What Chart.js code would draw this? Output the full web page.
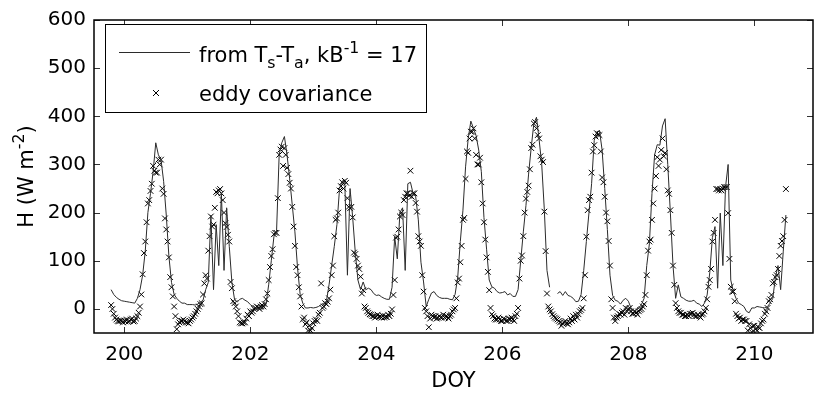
<!DOCTYPE html>
<html>
<head>
<meta charset="utf-8">
<title>H vs DOY</title>
<script src="https://cdn.jsdelivr.net/npm/chart.js"></script>
<style>
  html, body { margin: 0; padding: 0; background: #fff; }
  #wrap { width: 818px; height: 394px; }
</style>
</head>
<body>
<div id="wrap"><canvas id="hChart" width="818" height="394"></canvas></div>
<script>
// day of year and the first hour of data in that day
const days = [199, 200, 201, 202, 203, 204, 205, 206, 207, 208, 209, 210];
const firstHour = [19, 0, 0, 0, 0, 0, 0, 0, 0, 0, 0, 0];

// H from Ts-Ta (kB-1 = 17), one value per hour, W m-2
const ts199 = [40, 30, 24, 20, 17];
const ts200 = [16, 15, 14, 13, 12, 22, 40, 70, 120, 200, 240, 285, 345, 320, 310, 265, 195, 110, 55, 30, 22, 16, 12, 12];
const ts201 = [9, 9, 9, 8, 10, 14, 18, 40, 55, 195, 40, 175, 90, 240, 80, 210, 130, 55, 20, 14, 20, 22, 18, 15];
const ts202 = [9, 5, 2, 0, 0, 0, 10, 50, 100, 150, 160, 320, 345, 358, 320, 270, 215, 160, 85, 30, 12, 2, 2, 3];
const ts203 = [2, 3, 5, 9, 12, 16, 50, 90, 130, 175, 250, 266, 262, 70, 250, 190, 117, 60, 40, 56, 40, 43, 40, 32];
const ts204 = [28, 29, 25, 22, 20, 20, 45, 150, 104, 200, 210, 80, 260, 263, 240, 233, 185, 97, 56, 5, 20, 33, 36, 28];
const ts205 = [24, 22, 22, 22, 20, 19, 30, 65, 140, 205, 295, 354, 390, 375, 360, 330, 285, 190, 124, 60, 46, 43, 36, 33];
const ts206 = [34, 36, 29, 32, 26, 26, 40, 100, 160, 215, 280, 335, 385, 398, 352, 300, 205, 80, 45, null, null, 32, 36, 28];
const ts207 = [36, 28, 26, 22, 15, 16, 30, 80, 140, 200, 260, 350, 368, 370, 330, 250, 165, 70, 28, 18, 16, 10, 18, 22];
const ts208 = [16, 2, -5, -1, 2, 9, 22, 90, 135, 240, 320, 341, 340, 380, 395, 300, 199, 90, 22, 50, 25, 22, 18, 16];
const ts209 = [16, 18, 12, 10, 5, 12, 29, 75, 148, 171, 43, 199, 90, 253, 300, 60, 36, 22, 12, 9, 5, -5, -8, 2];
const ts210 = [2, 5, 4, 3, 2, 5, 12, 22, 65, 90, 40, 120, 195];

// eddy covariance H, one value per half hour, W m-2
const ec199 = [8, 0, -10, -18, -22, -25, -26, -24, -25, -28];
const ec200 = [-24, -26, -22, -27, -25, -22, -20, -26, -25, -20, -15, -8, 5, 30, 72, 116, 140, 180, 219, 226, 245, 260, 297, 287,
  283, 283, 310, 300, 310, 250, 239, 188, 165, 140, 107, 66, 45, 26, 5, -15, -42, -32, -28, -25, -25, -22, -25, -28];
const ec201 = [-28, -30, -25, -22, -18, -15, -10, -5, 0, 5, 10, 12, 30, 53, 70, 63, 121, 151, 192, 171, 175, 210, 243, 240,
  246, 249, 240, 226, 200, 178, 170, 154, 140, 56, 43, 16, 12, 5, -5, -15, -28, -30, -30, -28, -28, -20, -12, -15];
const ec202 = [-5, -8, -5, 0, 2, 5, 3, 0, 5, 8, 5, 10, 20, 32, 60, 87, 110, 124, 155, 158, 158, 230, 320, 331,
  337, 297, 334, 320, 293, 280, 262, 250, 212, 171, 131, 87, 70, 45, 26, 5, -22, -18, -32, -28, -45, -35, -45, -40];
const ec203 = [-30, -25, -22, -25, -12, -8, 53, 2, 5, 12, 10, 15, 22, 40, 70, 90, 151, 185, 188, 200, 246, 255, 263, 250,
  266, 262, 230, 212, 209, 212, 190, 117, 114, 104, 90, 83, 67, 32, 39, 5, 2, -5, -8, -11, -12, -15, -15, -18];
const ec204 = [-16, -12, -17, -15, -18, -14, -18, -16, -17, -12, -15, -10, -1, 29, 60, 148, 150, 165, 192, 200, 195, 226, 233, 240,
  240, 235, 287, 233, 240, 240, 220, 202, 151, 140, 131, 70, 36, 2, -5, -15, -38, -20, -12, -15, -18, -15, -20, -18];
const ec205 = [-15, -18, -18, -12, -18, -15, -16, -20, -15, -12, -5, -1, 2, 22, 55, 63, 97, 131, 185, 189, 270, 327, 324, 354,
  368, 368, 375, 354, 320, 300, 300, 314, 263, 219, 180, 144, 107, 77, 39, 2, -11, -15, -20, -22, -22, -18, -22, -25];
const ec206 = [-25, -20, -22, -25, -25, -20, -22, -18, -22, -25, -15, -10, 2, 63, 100, 111, 151, 200, 229, 243, 256, 290, 334, 341,
  385, 388, 375, 361, 354, 317, 310, 305, 202, 120, 32, 5, -1, -5, -11, -15, -18, -20, -22, -25, -28, -35, -30, -28];
const ec207 = [-25, -30, -32, -28, -20, -25, -15, -22, -12, -18, -11, -5, -2, 2, 22, 70, 150, 205, 226, 233, 283, 327, 340, 358,
  365, 362, 361, 327, 273, 263, 233, 200, 182, 141, 90, 20, 2, -18, -25, -18, -15, -10, -12, -8, -5, -12, 2, -5];
const ec208 = [0, 2, -5, -10, -10, -5, -8, -12, -5, -2, 0, 5, 10, 29, 70, 121, 140, 144, 185, 219, 250, 276, 315, 297,
  310, 330, 354, 317, 324, 290, 246, 239, 205, 158, 90, 50, 12, 2, -5, -8, -8, -12, -12, -15, -15, -12, -15, -10];
const ec209 = [-10, -8, -12, -15, -15, -12, -15, -18, -12, -10, -5, 2, 20, 46, 60, 83, 140, 158, 185, 249, 249, 246, 249, 246,
  250, 253, 253, 253, 199, 104, 46, 36, 36, 16, -10, -15, -20, -18, -25, -22, -22, -25, -25, -45, -32, -40, -48, -35];
const ec210 = [-35, -42, -45, -38, -40, -30, -25, -22, -10, -5, 2, 16, 20, 29, 53, 56, 66, 70, 83, 110, 131, 141, 151, 185, 249];

// axis ticks
const xTicks = [200, 202, 204, 206, 208, 210];
const yTicks = [0, 100, 200, 300, 400, 500, 600];

const FONT = 'DejaVu Sans';

// hours per array step: 1 for the model line, 0.5 for eddy covariance
function toPoints(lists, stepHours) {
  const pts = [];
  lists.forEach((vals, i) => {
    vals.forEach((v, k) => {
      pts.push({ x: days[i] + (firstHour[i] + k * stepHours) / 24, y: v });
    });
  });
  return pts;
}

const modelPoints = toPoints([ts199, ts200, ts201, ts202, ts203, ts204, ts205, ts206, ts207, ts208, ts209, ts210], 1);
const ecPoints = toPoints([ec199, ec200, ec201, ec202, ec203, ec204, ec205, ec206, ec207, ec208, ec209, ec210], 0.5);

// text with sub- and superscripts, parts = [[text, 'n'|'sub'|'sup'], ...]
function richWidth(ctx, parts, size) {
  let w = 0;
  parts.forEach(([t, k]) => {
    ctx.font = (k === 'n' ? size : size * 0.75) + 'px "' + FONT + '"';
    w += ctx.measureText(t).width;
  });
  return w;
}
function drawRich(ctx, parts, x, y, size) {
  parts.forEach(([t, k]) => {
    const s = k === 'n' ? size : size * 0.75;
    const dy = k === 'sub' ? size * 0.3 : (k === 'sup' ? -size * 0.42 : 0);
    ctx.font = s + 'px "' + FONT + '"';
    ctx.fillText(t, x, y + dy);
    x += ctx.measureText(t).width;
  });
}

const legendLine1 = [['from T', 'n'], ['s', 'sub'], ['-T', 'n'], ['a', 'sub'], [', kB', 'n'], ['-1', 'sup'], [' = 17', 'n']];
const legendLine2 = [['eddy covariance', 'n']];
const yTitle = [['H (W m', 'n'], ['-2', 'sup'], [')', 'n']];

// matlab style box, inward ticks, legend and y title
const framePlugin = {
  id: 'frame',
  afterDraw(chart) {
    const ctx = chart.ctx;
    const a = chart.chartArea;
    const x = chart.scales.x;
    const y = chart.scales.y;
    ctx.save();

    ctx.strokeStyle = '#333';
    ctx.lineWidth = 1;
    ctx.beginPath();
    x.ticks.forEach(t => {
      const px = Math.round(x.getPixelForValue(t.value)) + 0.5;
      ctx.moveTo(px, a.bottom); ctx.lineTo(px, a.bottom - 6);
      ctx.moveTo(px, a.top); ctx.lineTo(px, a.top + 6);
    });
    y.ticks.forEach(t => {
      const py = Math.round(y.getPixelForValue(t.value)) + 0.5;
      ctx.moveTo(a.left, py); ctx.lineTo(a.left + 6, py);
      ctx.moveTo(a.right, py); ctx.lineTo(a.right - 6, py);
    });
    ctx.stroke();

    ctx.strokeStyle = '#000';
    ctx.lineWidth = 1.5;
    ctx.strokeRect(a.left, a.top, a.right - a.left, a.bottom - a.top);

    // legend
    ctx.fillStyle = '#fff';
    ctx.fillRect(105, 24, 321, 88);
    ctx.strokeStyle = '#000';
    ctx.lineWidth = 1;
    ctx.strokeRect(105.5, 24.5, 321, 88);

    ctx.strokeStyle = '#2b2b2b';
    ctx.beginPath();
    ctx.moveTo(119, 52.5); ctx.lineTo(190, 52.5);
    ctx.stroke();

    ctx.strokeStyle = '#000';
    ctx.beginPath();
    ctx.moveTo(153, 90); ctx.lineTo(159, 96);
    ctx.moveTo(159, 90); ctx.lineTo(153, 96);
    ctx.stroke();

    ctx.fillStyle = '#000';
    ctx.textAlign = 'left';
    ctx.textBaseline = 'alphabetic';
    drawRich(ctx, legendLine1, 199, 62, 21);
    drawRich(ctx, legendLine2, 199, 101, 21);

    // y axis title, rotated
    const w = richWidth(ctx, yTitle, 21);
    ctx.translate(33, (a.top + a.bottom) / 2);
    ctx.rotate(-Math.PI / 2);
    drawRich(ctx, yTitle, -w / 2, 0, 21);

    ctx.restore();
  }
};

const ctx = document.getElementById('hChart').getContext('2d');
new Chart(ctx, {
  type: 'line',
  data: {
    datasets: [{
      type: 'line',
      label: 'from Ts-Ta, kB-1 = 17',
      data: modelPoints,
      borderColor: '#2b2b2b',
      borderWidth: 1,
      pointRadius: 0,
      tension: 0,
      spanGaps: false
    }, {
      type: 'scatter',
      label: 'eddy covariance',
      data: ecPoints,
      pointStyle: 'crossRot',
      pointRadius: 4,
      borderColor: '#000',
      backgroundColor: '#000',
      borderWidth: 1
    }]
  },
  options: {
    responsive: false,
    animation: false,
    events: [],
    layout: { padding: { left: 0, right: 0, top: 13, bottom: 0 } },
    plugins: {
      legend: { display: false },
      tooltip: { enabled: false }
    },
    scales: {
      x: {
        type: 'linear',
        min: 199.52,
        max: 210.93,
        afterBuildTicks: axis => { axis.ticks = xTicks.map(v => ({ value: v })); },
        afterFit: scale => { scale.height = 61; },
        grid: { display: false, drawTicks: false },
        border: { display: false },
        ticks: { color: '#000', font: { family: FONT, size: 20 }, padding: 10, maxRotation: 0, autoSkip: false },
        title: { display: true, text: 'DOY', color: '#000', font: { family: FONT, size: 21 }, padding: { top: 0, bottom: 0 } }
      },
      y: {
        type: 'linear',
        min: -50,
        max: 600,
        afterBuildTicks: axis => { axis.ticks = yTicks.map(v => ({ value: v })); },
        afterFit: scale => { scale.width = 94; },
        grid: { display: false, drawTicks: false },
        border: { display: false },
        ticks: { color: '#000', font: { family: FONT, size: 20 }, padding: 8, autoSkip: false }
      }
    }
  },
  plugins: [framePlugin]
});
</script>
</body>
</html>
